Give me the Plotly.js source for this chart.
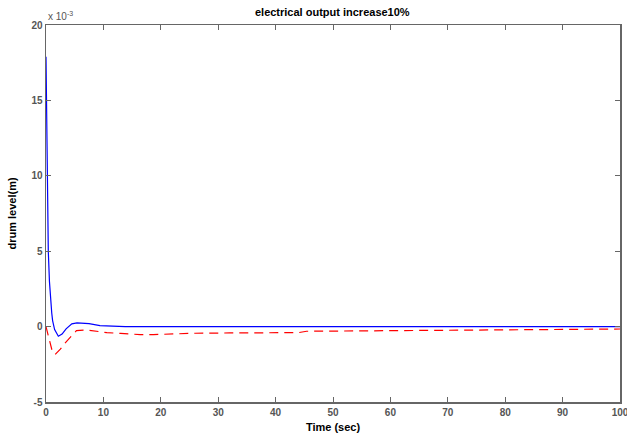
<!DOCTYPE html>
<html><head><meta charset="utf-8">
<script src="https://cdn.plot.ly/plotly-3.0.1.min.js"></script>
<style>body{margin:0;background:#fff}#c{width:627px;height:437px}</style>
</head><body><div id="c"></div>
<script>
const tBlue = [0, 0.2, 0.4, 0.6, 0.8, 1.0, 1.15, 1.5, 2.15, 2.8, 3.5, 4.5, 5.4, 6.5, 7.5, 9.4, 11.5, 13.8, 20, 30, 40, 50, 60, 70, 80, 90, 100];
const yBlue = [17.9, 11, 5.0, 3.0, 1.7, 0.9, 0.4, -0.2, -0.64, -0.5, -0.15, 0.18, 0.25, 0.25, 0.2, 0.07, 0.05, 0.0, 0.0, 0.0, 0.0, 0.0, 0.0, 0.0, 0.0, 0.0, 0.0];
const tRed = [0, 0.5, 1.0, 1.57, 2.5, 3.3, 4.2, 5.3, 7.1, 9, 10.6, 13, 16.4, 18.7, 22, 26, 32, 35, 40, 44, 45.4, 50, 60.5, 70, 85, 99.7, 100];
const yRed = [0, -0.8, -1.5, -1.86, -1.5, -1.1, -0.7, -0.27, -0.22, -0.3, -0.4, -0.45, -0.53, -0.53, -0.48, -0.44, -0.42, -0.42, -0.41, -0.4, -0.31, -0.3, -0.28, -0.26, -0.22, -0.16, -0.16];
const xTicks = [0, 10, 20, 30, 40, 50, 60, 70, 80, 90, 100];
const yTicks = [-5, 0, 5, 10, 15, 20];

const tickFont = {family: 'Liberation Sans, Arial, sans-serif', size: 10, color: '#555', weight: 'bold'};
const axisCommon = {
  showgrid: false, zeroline: false, showline: true, linecolor: '#666', linewidth: 1.5,
  mirror: 'ticks', ticks: 'inside', ticklen: 5, tickcolor: '#666', tickwidth: 1,
  tickfont: tickFont, ticklabeloverflow: 'allow'
};
Plotly.newPlot('c', [
  {x: tRed, y: yRed, mode: 'lines', line: {color: '#ff0000', width: 1.2, dash: '9px,6px'}, hoverinfo: 'none'},
  {x: tBlue, y: yBlue, mode: 'lines', line: {color: '#0000ff', width: 1.2}, hoverinfo: 'none'}
], {
  width: 627, height: 437,
  margin: {l: 46, r: 7, t: 25, b: 35},
  showlegend: false,
  paper_bgcolor: '#fff', plot_bgcolor: '#fff',
  title: {text: 'electrical output increase10%', x: 0.53, xanchor: 'center', y: 0.972, yanchor: 'middle',
    font: {family: 'Liberation Sans, Arial, sans-serif', size: 11, color: '#000', weight: 'bold'}},
  xaxis: Object.assign({}, axisCommon, {range: [0, 100], tickvals: xTicks, ticktext: xTicks.map(String),
    title: {text: 'Time (sec)', standoff: 7, font: {family: 'Liberation Sans, Arial, sans-serif', size: 11, color: '#000', weight: 'bold'}}}),
  yaxis: Object.assign({}, axisCommon, {range: [-5, 20], tickvals: yTicks, ticktext: yTicks.map(String),
    title: {text: 'drum level(m)', standoff: 12, font: {family: 'Liberation Sans, Arial, sans-serif', size: 11, color: '#000', weight: 'bold'}}}),
  annotations: [{text: 'x 10<sup>-3</sup>', xref: 'paper', yref: 'paper', x: 0, y: 1, xanchor: 'left', yanchor: 'bottom',
    showarrow: false, yshift: 1, font: {family: 'Liberation Sans, Arial, sans-serif', size: 10, color: '#555'}}]
}, {staticPlot: true});
</script></body></html>
